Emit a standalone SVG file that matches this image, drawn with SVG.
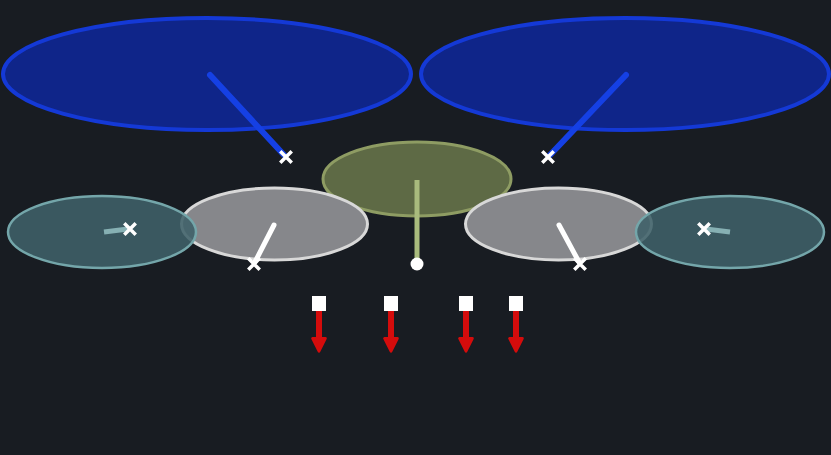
<svg xmlns="http://www.w3.org/2000/svg" width="831" height="455" viewBox="0 0 831 455">
<defs>
<style>
.deep{fill:#0f2589;stroke:#1439d6;stroke-width:4}
.hook{fill:#5e6a45;stroke:#8e9c63;stroke-width:3}
.flat{fill:#86878b;stroke:#d8d8d8;stroke-width:3}
.curl{fill:#3f6169;fill-opacity:.88;stroke:#74a6aa;stroke-width:2.5}
.cx{stroke:#ffffff;stroke-width:3.5;stroke-linecap:square}
.blk{fill:#ffffff}
.lb{stroke:#1540e4;stroke-width:6;stroke-linecap:round;fill:none}
.lo{stroke:#a9bb7d;stroke-width:5;fill:none}
.lw{stroke:#ffffff;stroke-width:5;stroke-linecap:round;fill:none}
.lt{stroke:#86b0b3;stroke-width:5;fill:none}
.lr{stroke:#d40c0c;stroke-width:6;fill:none;marker-end:url(#ah)}
</style>
<marker id="ah" viewBox="-1 -1 12 12" refX="2" refY="5" markerWidth="2.6" markerHeight="2.6" orient="auto" markerUnits="strokeWidth">
<path d="M0,0 L10,5 L0,10 Z" fill="#d40c0c" stroke="#d40c0c" stroke-width="2" stroke-linejoin="round"/>
</marker>
<g id="xm"><path class="cx" d="M-4.5,-4.5 L4.5,4.5 M4.5,-4.5 L-4.5,4.5"/></g>
</defs>
<rect width="831" height="455" fill="#181c22"/>
<g id="zones">
<g id="zone-deep-left"><ellipse class="deep" cx="207" cy="74" rx="204" ry="56"/></g>
<g id="zone-deep-right"><ellipse class="deep" cx="625" cy="74" rx="204" ry="56"/></g>
<g id="zone-hook"><ellipse class="hook" cx="417" cy="179" rx="94" ry="37"/></g>
<g id="zone-flat-left"><ellipse class="flat" cx="274.5" cy="224" rx="93" ry="36"/></g>
<g id="zone-flat-right"><ellipse class="flat" cx="558.5" cy="224" rx="93" ry="36"/></g>
<g id="zone-curl-left"><ellipse class="curl" cx="102" cy="232" rx="94" ry="36"/></g>
<g id="zone-curl-right"><ellipse class="curl" cx="730" cy="232" rx="94" ry="36"/></g>
</g>
<g id="connectors">
<line class="lb" x1="210" y1="75" x2="284" y2="155"/>
<line class="lb" x1="626" y1="75" x2="550" y2="155"/>
<line class="lo" x1="417" y1="180" x2="417" y2="262"/>
<line class="lw" x1="274" y1="225" x2="255" y2="262"/>
<line class="lw" x1="559" y1="225" x2="579" y2="262"/>
<line class="lt" x1="104" y1="232" x2="128" y2="229"/>
<line class="lt" x1="730" y1="232" x2="706" y2="229"/>
<line class="lr" x1="319" y1="310" x2="319" y2="341"/>
<line class="lr" x1="391" y1="310" x2="391" y2="341"/>
<line class="lr" x1="466" y1="310" x2="466" y2="341"/>
<line class="lr" x1="516" y1="310" x2="516" y2="341"/>
</g>
<g id="defenders">
<g id="d1"><use href="#xm" x="286" y="157"/></g>
<g id="d2"><use href="#xm" x="548" y="157"/></g>
<g id="d3"><use href="#xm" x="254" y="264"/></g>
<g id="d4"><use href="#xm" x="580" y="264"/></g>
<g id="d5"><use href="#xm" x="130" y="229"/></g>
<g id="d6"><use href="#xm" x="704" y="229"/></g>
<g id="d7"><circle cx="417" cy="264" r="6.5" fill="#ffffff"/></g>
</g>
<g id="blockers">
<g id="b1"><rect class="blk" x="312" y="296" width="14" height="15"/></g>
<g id="b2"><rect class="blk" x="384" y="296" width="14" height="15"/></g>
<g id="b3"><rect class="blk" x="459" y="296" width="14" height="15"/></g>
<g id="b4"><rect class="blk" x="509" y="296" width="14" height="15"/></g>
</g>
</svg>
